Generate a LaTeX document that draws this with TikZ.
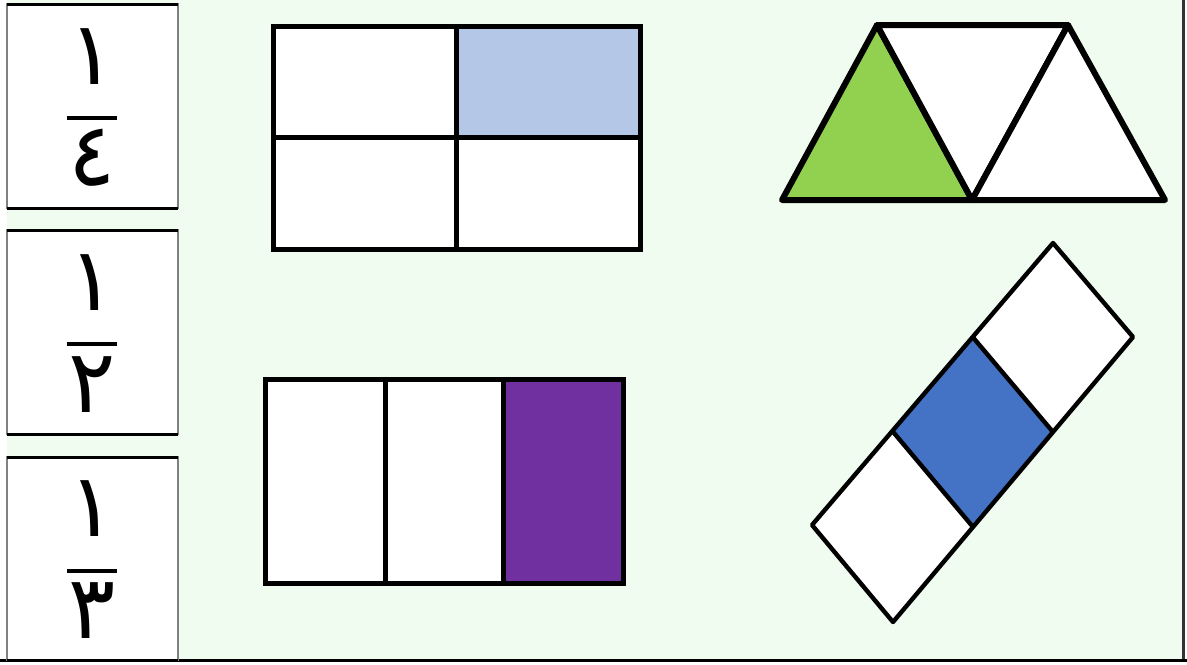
\documentclass[tikz,border=0pt]{standalone}
\usepackage{fontspec}
\usepackage{tikz}
\usetikzlibrary{calc}
\TeXXeTstate=1
\newfontfamily\arabicfont[Script=Arabic]{DejaVu Sans}
\definecolor{FondoVerde}{RGB}{239,252,239}
\definecolor{AzulClaro}{RGB}{180,199,231}
\definecolor{Morado}{RGB}{112,48,160}
\definecolor{VerdeTri}{RGB}{146,208,80}
\definecolor{AzulPieza}{RGB}{68,114,196}

\begin{document}
\begin{tikzpicture}[x=0.5pt,y=-0.5pt]
  \useasboundingbox (0,0) rectangle (1187,664);
  \fill[FondoVerde] (7,0) rectangle (1183,660);
  \draw[line width=1.5pt,black!80] (1183,0)--(1183,660);
  \draw[line width=1.5pt] (0,660)--(1187,660);
  \foreach \top/\bot/\den [count=\i] in {4/208/٤,230/434/٢,457/660/٣}{
    \draw[fill=white,draw=gray,line width=0.7pt] (7,\top) rectangle (178,\bot);
    \draw[line width=1.5pt] (7,\top)--(178,\top);
    \draw[line width=1.5pt] (7,\bot)--(178,\bot);
    \coordinate (bar\i) at (92,{\top+(\bot-\top)*0.56});
    \node[font=\arabicfont\fontsize{44}{44}\selectfont] (num\i)
      at ($(bar\i)+(0,-62)$) {\beginR ١\endR};
    \node[font=\arabicfont\fontsize{44}{44}\selectfont] (den\i)
      at ($(bar\i)+(0,40)$) {\beginR \den\endR};
    \draw[line width=2pt] ($(bar\i)+(-25,0)$)--($(bar\i)+(25,0)$);
  }
  % rectangulo en cuartos
  \fill[white] (273,26) rectangle (640,249);
  \fill[AzulClaro] (456,26) rectangle (640,137);
  \draw[line width=2.5pt] (273,26) rectangle (640,249);
  \draw[line width=2.5pt] (456,26)--(456,249) (273,137)--(640,137);
  % rectangulo en tercios
  \fill[white] (265,379) rectangle (623,583);
  \fill[Morado] (503,379) rectangle (623,583);
  \draw[line width=2.5pt] (265,379) rectangle (623,583);
  \draw[line width=2.5pt] (385,379)--(385,583) (503,379)--(503,583);
  % triangulos
  \coordinate (A) at (782,200);
  \coordinate (B) at (877,25);
  \coordinate (C) at (972,200);
  \coordinate (D) at (1068,25);
  \coordinate (E) at (1165,200);
  \draw[fill=VerdeTri,line width=3pt,line join=round] (A)--(B)--(C)--cycle;
  \draw[fill=white,line width=3pt,line join=round] (B)--(D)--(C)--cycle;
  \draw[fill=white,line width=3pt,line join=round] (C)--(D)--(E)--cycle;
  % tira girada
  \coordinate (L) at (812,525);
  \coordinate (T) at (1053,243);
  \coordinate (R) at (1133,337);
  \coordinate (Bo) at (893,622);
  \coordinate (L1) at ($(L)!1/3!(T)$);
  \coordinate (L2) at ($(L)!2/3!(T)$);
  \coordinate (B1) at ($(Bo)!1/3!(R)$);
  \coordinate (B2) at ($(Bo)!2/3!(R)$);
  \fill[white] (L)--(T)--(R)--(Bo)--cycle;
  \fill[AzulPieza] (L1)--(L2)--(B2)--(B1)--cycle;
  \draw[line width=2.2pt,line join=round] (L)--(T)--(R)--(Bo)--cycle;
  \draw[line width=2.2pt] (L1)--(B1) (L2)--(B2);
\end{tikzpicture}
\end{document}
